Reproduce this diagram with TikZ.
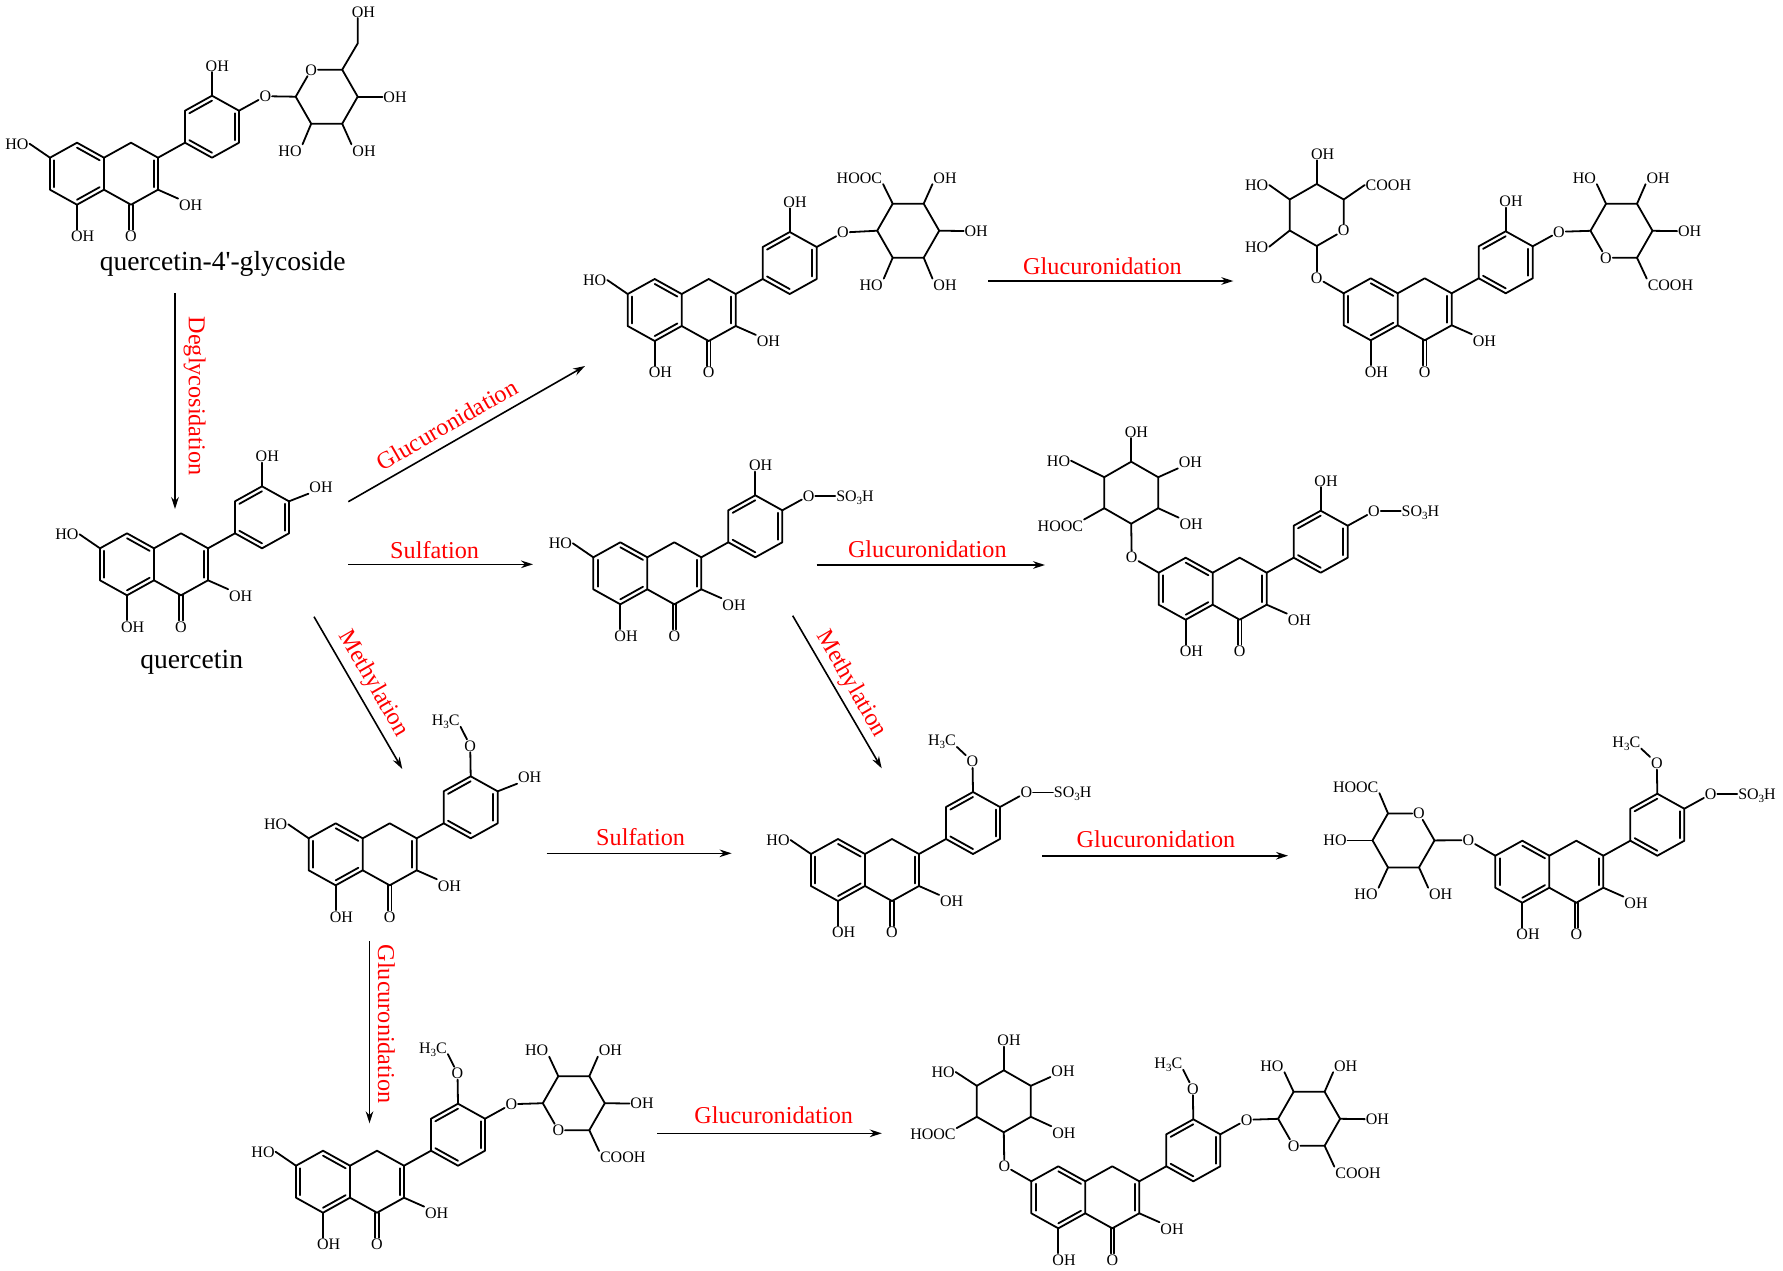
\documentclass[tikz,border=0pt]{standalone}
\usepackage{fontspec}
\setmainfont{Liberation Serif}
\usetikzlibrary{calc,arrows.meta}
\def\subthree{\raisebox{-1.5pt}{\fontsize{5.5}{6}\selectfont 3}}
\tikzset{
  bond/.style={line width=.9pt,line cap=round,line join=round},
  atom/.style={font=\fontsize{8}{9}\selectfont,inner sep=.5pt,outer sep=0pt,text height=5.4pt,text depth=0pt},
  arrow/.style={->,line width=.8pt},
  lab/.style={text=red,font=\fontsize{12.1}{14}\selectfont,inner sep=0pt},
  caption/.style={font=\fontsize{13.8}{16}\selectfont,inner sep=0pt}
}
% the two fused rings and the phenyl ring, all 11 molecules share them
\newcommand{\flavcore}{
  \foreach \n/\x/\y in {a1/-54/0,a2/-27/-15,a3/0/0,a4/0/32,a5/-27/47,a6/-54/32,b1/27/-15,b2/54/0,b3/54/32,b4/27/47,c1/81/-15,c2/81/-47,c3/108/-62,c4/135/-47,c5/135/-15,c6/108/0,ca/-27/16,cb/27/16,cc/108/-31}
    \coordinate (\n) at (\x,\y);
  \draw[bond] (a1) -- (a2) -- (a3) -- (a4) -- (a5) -- (a6) -- cycle;
  \draw[bond] (a3) -- (b1) -- (b2) -- (b3) -- (b4) -- (a4);
  \draw[bond] (b2) -- (c1);
  \draw[bond] (c1) -- (c2) -- (c3) -- (c4) -- (c5) -- (c6) -- cycle;
  \foreach \p/\q/\r in {a1/a6/ca,a2/a3/ca,a4/a5/ca,b2/b3/cb,c2/c3/cc,c4/c5/cc,c6/c1/cc}
    \draw[bond] ($(\p)!.16!(\r)$) -- ($(\q)!.16!(\r)$);
  \node[atom] (oh5) at (-21.3,78.3) {OH};
  \node[atom] (ohb) at (86.7,47.3) {OH};
  \node[atom] (oket) at (27,78.5) {O};
  \draw[bond] (a5) -- (a5 |- oh5.north);
  \draw[bond] (b3) -- (ohb.north west);
  \foreach \s in {-.85,.85}
    \draw[bond] ([xshift=\s pt]b4) -- ([xshift=\s pt]oket.north);
}
\newcommand{\sevenoh}{
  \node[atom] (ho7) at (-87,-14) {HO};
  \draw[bond] (a1) -- (ho7.east);
}
\newcommand{\sevenoxy}{
  \node[atom] (o7) at (-81,-15.5) {O};
  \draw[bond] (a1) -- (o7);
}
\newcommand{\threeoh}{
  \node[atom] (oh3) at (113.3,-92) {OH};
  \draw[bond] (c3) -- (c3 |- oh3.south);
}
% #1,#2 place the methyl label
\newcommand{\methoxy}[2]{
  \node[atom] (o3) at (107.5,-92.5) {O};
  \node[atom] (me3) at (#1,#2) {H\subthree C};
  \draw[bond] (c3) -- (o3);
  \draw[bond] (o3) -- (me3.south east);
}
\newcommand{\fouroh}{
  \node[atom] (oh4) at (167,-61) {OH};
  \draw[bond] (c4) -- (oh4.south west);
}
\newcommand{\fouroxy}{
  \node[atom] (o4) at (161.3,-61.5) {O};
  \draw[bond] (c4) -- (o4);
}
\newcommand{\sulfo}{
  \fouroxy
  \node[atom] (so4) at (207.7,-61.5) {SO\subthree H};
  \draw[bond] (o4) -- (so4.west);
}
% #1 name of the ring, #2 number of the corner that is the ring oxygen (0 for none)
\newcommand{\ringflat}[2]{
  \foreach \n/\x/\y in {1/-31/0,2/-15.5/-27,3/15.5/-27,4/31/0,5/15.5/27,6/-15.5/27}{
    \ifnum\n=#2 \node[atom] (#1\n) at (\x,\y) {O}; \else \coordinate (#1\n) at (\x,\y); \fi
  }
  \draw[bond] (#11) -- (#12) -- (#13) -- (#14) -- (#15) -- (#16) -- (#11);
}
\newcommand{\ringpoint}[2]{
  \foreach \n/\x/\y in {1/0/-31,2/27/-15.5,3/27/15.5,4/0/31,5/-27/15.5,6/-27/-15.5}{
    \ifnum\n=#2 \node[atom] (#1\n) at (\x,\y) {O}; \else \coordinate (#1\n) at (\x,\y); \fi
  }
  \draw[bond] (#11) -- (#12) -- (#13) -- (#14) -- (#15) -- (#16) -- (#11);
}
% groups on a sugar: corner/text/x/y/anchor
\newcommand{\substs}[1]{
  \foreach \v/\t/\x/\y/\s in {#1}{
    \node[atom] (\t\v) at (\x,\y) {\t};
    \draw[bond] (\v) -- (\t\v.\s);
  }
}
\newcommand{\gluright}{
  \begin{scope}[shift={(223.8,-62.5)}]
    \ringflat{r}{6}
    \substs{r2/HO/-37.2/-53/south east,r3/OH/36.6/-53/south west,r4/OH/68.2/.3/west,r5/COOH/48.9/54.2/north west}
  \end{scope}
  \draw[bond] (o4) -- (r1);
}
\newcommand{\gluleft}{
  \begin{scope}[shift={(-81,-78.3)}]
    \ringpoint{l}{3}
    \substs{l2/COOH/71.7/-30/west,l6/HO/-60/-30/east,l5/HO/-60/31.7/east}
    \node[atom] (ohl) at (6,-61) {OH};
    \draw[bond] (l1) -- (l1 |- ohl.south);
  \end{scope}
  \draw[bond] (o7) -- (l4);
}
% #1,#2 place the HO on the upper left
\newcommand{\carboleft}[2]{
  \begin{scope}[shift={(-81.5,-80)}]
    \ringpoint{l}{0}
    \substs{l6/HO/#1/#2/east,l2/OH/59.2/-30.7/south west,l3/OH/60/31.3/north west,l5/HOOC/-70.8/33.2/north east}
    \node[atom] (ohl) at (5.2,-61) {OH};
    \draw[bond] (l1) -- (l1 |- ohl.south);
  \end{scope}
  \draw[bond] (o7) -- (l4);
}
\begin{document}
\begin{tikzpicture}[x=.5pt,y=-.5pt,>={Stealth[length=6pt,width=3.8pt]}]
\useasboundingbox (0,0) rectangle (1783,1270);
% quercetin-4'-glycoside
\begin{scope}[shift={(104,157.7)},name prefix=qg-]
  \flavcore \sevenoh \threeoh \fouroxy
  \begin{scope}[shift={(222.7,-61)}]
    \ringflat{r}{2}
    \substs{r4/OH/68.3/0/west,r5/OH/37.3/54/north west,r6/HO/-36.7/54/north east}
    \coordinate (ch) at (31,-53.3);
    \node[atom] (ohch) at (36.7,-85) {OH};
    \draw[bond] (r3) -- (ch) -- (ch |- ohch.south);
  \end{scope}
  \draw[bond] (o4) -- (r1);
\end{scope}
% quercetin
\begin{scope}[shift={(154,548.3)},name prefix=q-]
  \flavcore \sevenoh \threeoh \fouroh
\end{scope}
% top row
\begin{scope}[shift={(681.7,294)},name prefix=qa-]
  \flavcore \sevenoh \threeoh \fouroxy
  \begin{scope}[shift={(226.5,-63.3)}]
    \ringflat{r}{0}
    \substs{r2/HOOC/-48.8/-53/south east,r3/OH/36.8/-53/south west,r4/OH/68/.3/west,r5/OH/36.8/54.3/north west,r6/HO/-37/54.3/north east}
  \end{scope}
  \draw[bond] (o4) -- (r1);
\end{scope}
\begin{scope}[shift={(1397.7,293.3)},name prefix=qb-]
  \flavcore \sevenoxy \threeoh \fouroxy \gluright \gluleft
\end{scope}
% sulfated
\begin{scope}[shift={(647.3,557.3)},name prefix=qs-]
  \flavcore \sevenoh \threeoh \sulfo
\end{scope}
\begin{scope}[shift={(1212.7,572.7)},name prefix=qsg-]
  \flavcore \sevenoxy \threeoh \sulfo \carboleft{-72.7}{-32}
\end{scope}
% methylated
\begin{scope}[shift={(362.7,838.3)},name prefix=qm-]
  \flavcore \sevenoh \methoxy{83}{-118} \fouroh
\end{scope}
\begin{scope}[shift={(865,854)},name prefix=qms-]
  \flavcore \sevenoh \methoxy{77}{-113.5} \sulfo
\end{scope}
\begin{scope}[shift={(1549.3,855.7)},name prefix=qmsg-]
  \flavcore \sevenoxy \methoxy{77}{-113.5} \sulfo
  \begin{scope}[shift={(-145.8,-15.3)}]
    \ringflat{r}{3}
    \substs{r2/HOOC/-47.8/-53.7/south east,r1/HO/-68.5/0/east,r6/HO/-37.5/53.7/north east,r5/OH/37.2/53.7/north west}
  \end{scope}
  \draw[bond] (o7) -- (r4);
\end{scope}
\begin{scope}[shift={(350,1165.7)},name prefix=qmg-]
  \flavcore \sevenoh \methoxy{83}{-118} \fouroxy \gluright
\end{scope}
\begin{scope}[shift={(1085.3,1181.3)},name prefix=qmgg-]
  \flavcore \sevenoxy \methoxy{83}{-118} \fouroxy \gluright \carboleft{-60.7}{-29.3}
\end{scope}
% names
\node[caption] (nameqg) at (222.7,264) {quercetin-4\textquotesingle-glycoside};
\node[caption] (nameq) at (191.7,662) {quercetin};
% arrows
\foreach \n/\xa/\ya/\xb/\yb in {deg/175/293/175/509,glua/348.3/501.7/585/366,sula/348.3/564.3/533/564.3,meta/314/616.7/402.3/769,glub/988.3/281/1233.3/281,gluc/816.7/565/1045/565,metb/792.7/615.7/881.7/768.3,sulb/546.7/853.3/731.6/853.3,glud/1042.3/855.7/1288/855.7,glue/369.5/941/369.5/1123.3,gluf/657/1133.3/881.8/1133.3}{
  \coordinate (\n0) at (\xa,\ya);
  \coordinate (\n1) at (\xb,\yb);
  \draw[arrow] (\n0) -- (\n1);
}
% labels of the arrows
\foreach \n/\ang/\x/\y/\t in {deg/-90/194.6/396/Deglycosidation,glua/30/447/424.5/Glucuronidation,sula/0/434.6/550/Sulfation,meta/-60/373.2/683.8/Methylation,glub/0/1102.5/266/Glucuronidation,gluc/0/927.3/549.6/Glucuronidation,metb/-60/851/684/Methylation,sulb/0/640.6/837/Sulfation,glud/0/1156/839.7/Glucuronidation,glue/-90/386.5/1024/Glucuronidation,gluf/0/773.7/1115/Glucuronidation}
  \node[lab,rotate=\ang] (lab\n) at (\x,\y) {\t};
\end{tikzpicture}
\end{document}
